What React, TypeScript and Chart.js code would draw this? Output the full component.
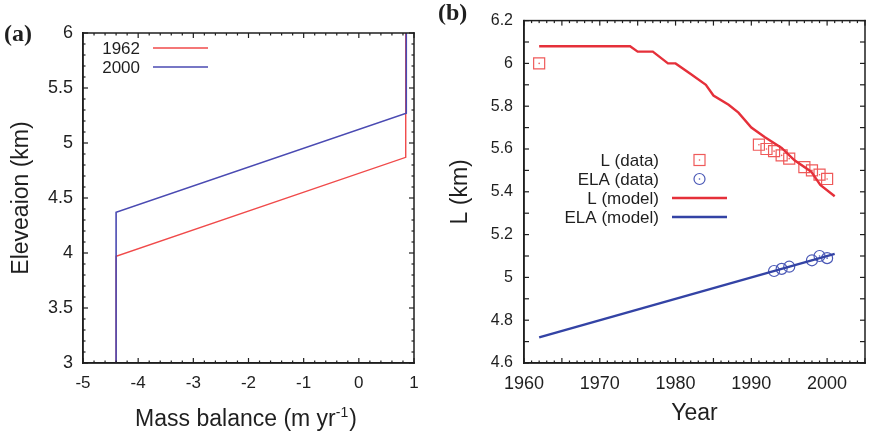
import React, { useEffect, useRef } from 'react';
import { Chart, registerables } from 'chart.js';

Chart.register(...registerables);

const SANS = '"Liberation Sans", Arial, Helvetica, sans-serif';
const SERIF = '"Liberation Serif", "Times New Roman", serif';
const INK = '#1f1f1f';

// ---------- Panel (a): mass-balance profiles ----------
const aSeriesNames = ['1962', '2000'];
const mb1962 = [-4.4, -4.4, 0.85, 0.85];
const elev1962 = [3.0, 3.97, 4.87, 6.0];
const mb2000 = [-4.4, -4.4, 0.86, 0.86];
const elev2000 = [3.0, 4.37, 5.27, 6.0];
const aXTicks = [-5, -4, -3, -2, -1, 0, 1];
const aYTicks = [3, 3.5, 4, 4.5, 5, 5.5, 6];

// ---------- Panel (b): glacier length and ELA ----------
const bSeriesNames = ['L (data)', 'ELA (data)', 'L (model)', 'ELA (model)'];
const lModelYear = [1962, 1974, 1975, 1977, 1979, 1980, 1982, 1984, 1985, 1987, 1988.3, 1990, 1991.8, 1994, 1995.7, 1997.9, 1999.1, 2001];
const lModelKm = [6.08, 6.08, 6.055, 6.055, 6.0, 6.0, 5.95, 5.9, 5.85, 5.807, 5.77, 5.7, 5.655, 5.605, 5.547, 5.494, 5.432, 5.379];
const lDataYear = [1962, 1991, 1992, 1993, 1994, 1995, 1997, 1998, 1999, 2000];
const lDataKm = [6.0, 5.62, 5.6, 5.59, 5.57, 5.555, 5.515, 5.5, 5.48, 5.46];
const elaModelYear = [1962, 2001];
const elaModelKm = [4.72, 5.11];
const elaDataYear = [1993, 1994, 1995, 1998, 1999, 2000];
const elaDataKm = [5.03, 5.04, 5.05, 5.08, 5.1, 5.09];
const bXTicks = [1960, 1970, 1980, 1990, 2000];
const bYTicks = [4.6, 4.8, 5, 5.2, 5.4, 5.6, 5.8, 6, 6.2];

const RED_A = '#f04a4a';
const BLUE_A = '#4a4ab2';
const RED_B = '#e5303a';
const BLUE_B = '#3343a5';
const RED_PT = '#ef5a5a';
const BLUE_PT = '#4a58b6';

const pts = (xs: number[], ys: number[]) => xs.map((x, i) => ({ x, y: ys[i] }));

function axis(min: number, max: number, ticks: number[], horizontal: boolean, size: number, fontSize: number, padding: number, title?: any) {
  return {
    type: 'linear',
    min,
    max,
    grid: { display: false, drawTicks: false },
    border: { display: true, color: INK, width: 1.5 },
    ticks: {
      autoSkip: false,
      maxRotation: 0,
      padding,
      color: INK,
      font: { family: SANS, size: fontSize },
      callback: (v: number) => String(v),
    },
    afterBuildTicks: (s: any) => {
      s.ticks = ticks.map((v) => ({ value: v }));
    },
    afterFit: (s: any) => {
      if (horizontal) s.height = size;
      else s.width = size;
    },
    title: title || { display: false },
  };
}

type FrameSpec = { xStep: number; xLong: number; yStep: number; yLong: number; yShortLen: number };

// Frame box + inward tick marks, drawn on an overlay canvas from the chart's own scales
function drawFrameOverlay(canvas: HTMLCanvasElement, chart: any, f: FrameSpec) {
  const ctx = canvas.getContext('2d');
  if (!ctx) return;
  ctx.setTransform(1, 0, 0, 1, 0, 0);
  ctx.clearRect(0, 0, canvas.width, canvas.height);
  const xs = chart.scales.x;
  const ys = chart.scales.y;
  const L = xs.getPixelForValue(xs.min);
  const R = xs.getPixelForValue(xs.max);
  const T = ys.getPixelForValue(ys.max);
  const B = ys.getPixelForValue(ys.min);
  const isLong = (v: number, step: number) => Math.abs(v / step - Math.round(v / step)) < 1e-6;
  ctx.fillStyle = INK;
  const bw = 1.5;
  ctx.fillRect(L - bw / 2, T - bw / 2, R - L + bw, bw);
  ctx.fillRect(L - bw / 2, B - bw / 2, R - L + bw, bw);
  ctx.fillRect(L - bw / 2, T - bw / 2, bw, B - T + bw);
  ctx.fillRect(R - bw / 2, T - bw / 2, bw, B - T + bw);
  const tw = 1.2;
  const nx = Math.round((xs.max - xs.min) / f.xStep);
  for (let i = 0; i <= nx; i++) {
    const v = xs.min + i * f.xStep;
    const p = xs.getPixelForValue(v);
    const len = isLong(v, f.xLong) ? 5 : 2.5;
    ctx.fillRect(p - tw / 2, B - len, tw, len);
    ctx.fillRect(p - tw / 2, T, tw, len);
  }
  const ny = Math.round((ys.max - ys.min) / f.yStep);
  for (let i = 0; i <= ny; i++) {
    const v = ys.min + i * f.yStep;
    const p = ys.getPixelForValue(v);
    const len = isLong(v, f.yLong) ? 5 : f.yShortLen;
    ctx.fillRect(L, p - tw / 2, len, tw);
    ctx.fillRect(R - len, p - tw / 2, len, tw);
  }
}

type Row = { label: string; kind: 'line' | 'square' | 'circle'; color: string; width: number };

type Decor = {
  rows: Row[];
  textRight: number;
  rowYs: number[];
  sx1: number;
  sx2: number;
  legendFont: number;
  label: string;
  labelX: number;
  labelY: number;
  massTitle: boolean;
};

function decorPlugin(id: string, d: Decor) {
  return {
    id,
    afterDraw(chart: any) {
      const ctx = chart.ctx;

      // legend
      ctx.save();
      ctx.font = `${d.legendFont}px ${SANS}`;
      ctx.textAlign = 'right';
      ctx.textBaseline = 'middle';
      d.rows.forEach((r, i) => {
        const y = d.rowYs[i];
        ctx.fillStyle = INK;
        ctx.fillText(r.label, d.textRight, y + 1);
        ctx.strokeStyle = r.color;
        ctx.fillStyle = r.color;
        ctx.lineWidth = r.width;
        const cx = (d.sx1 + d.sx2) / 2;
        if (r.kind === 'line') {
          ctx.beginPath();
          ctx.moveTo(d.sx1, y);
          ctx.lineTo(d.sx2, y);
          ctx.stroke();
        } else if (r.kind === 'square') {
          ctx.strokeRect(cx - 5.5, y - 5.5, 11, 11);
          ctx.beginPath();
          ctx.arc(cx, y, 0.8, 0, Math.PI * 2);
          ctx.fill();
        } else {
          ctx.beginPath();
          ctx.arc(cx, y, 5.5, 0, Math.PI * 2);
          ctx.stroke();
          ctx.beginPath();
          ctx.arc(cx, y, 0.8, 0, Math.PI * 2);
          ctx.fill();
        }
      });
      ctx.restore();

      // panel label
      ctx.save();
      ctx.font = `bold 24px ${SERIF}`;
      ctx.fillStyle = INK;
      ctx.textAlign = 'left';
      ctx.textBaseline = 'middle';
      ctx.fillText(d.label, d.labelX, d.labelY);
      ctx.restore();

      // x title with superscript (panel a)
      if (d.massTitle) {
        const main = 'Mass balance (m yr';
        const sup = '-1';
        const close = ')';
        ctx.save();
        ctx.fillStyle = INK;
        ctx.textBaseline = 'alphabetic';
        ctx.textAlign = 'left';
        ctx.font = `23px ${SANS}`;
        const w1 = ctx.measureText(main).width;
        const w3 = ctx.measureText(close).width;
        ctx.font = `14px ${SANS}`;
        const w2 = ctx.measureText(sup).width;
        const total = w1 + w2 + w3 + 1;
        const x0 = 246 - total / 2;
        const base = 426;
        ctx.font = `23px ${SANS}`;
        ctx.fillText(main, x0, base);
        ctx.font = `14px ${SANS}`;
        ctx.fillText(sup, x0 + w1, base - 9);
        ctx.font = `23px ${SANS}`;
        ctx.fillText(close, x0 + w1 + w2 + 1, base);
        ctx.restore();
      }
    },
  };
}

function configA(): any {
  return {
    type: 'scatter',
    data: {
      datasets: [
        { label: aSeriesNames[1], data: pts(mb2000, elev2000), showLine: true, borderColor: BLUE_A, borderWidth: 1.6, pointRadius: 0, order: 0 },
        { label: aSeriesNames[0], data: pts(mb1962, elev1962), showLine: true, borderColor: RED_A, borderWidth: 1.4, pointRadius: 0, order: 1 },
      ],
    },
    options: {
      animation: false,
      responsive: false,
      events: [],
      layout: { padding: { left: 0, right: 23, top: 33, bottom: 0 } },
      plugins: { legend: { display: false }, tooltip: { enabled: false } },
      scales: {
        x: axis(-5, 1, aXTicks, true, 73, 17, 10),
        y: axis(3, 6, aYTicks, false, 83, 18, 10, {
          display: true,
          text: 'Eleveaion (km)',
          color: INK,
          font: { family: SANS, size: 23 },
          padding: { top: 8, bottom: 0 },
        }),
      },
    },
    plugins: [
      decorPlugin('decorA', {
        rows: [
          { label: aSeriesNames[0], kind: 'line', color: RED_A, width: 1.4 },
          { label: aSeriesNames[1], kind: 'line', color: BLUE_A, width: 1.4 },
        ],
        textRight: 140,
        rowYs: [48, 67],
        sx1: 153,
        sx2: 208,
        legendFont: 17,
        label: '(a)',
        labelX: 4,
        labelY: 35,
        massTitle: true,
      }),
    ],
  };
}

function configB(): any {
  return {
    type: 'scatter',
    data: {
      datasets: [
        { label: bSeriesNames[2], data: pts(lModelYear, lModelKm), showLine: true, borderColor: RED_B, borderWidth: 2.4, pointRadius: 0, order: 0 },
        { label: bSeriesNames[3], data: pts(elaModelYear, elaModelKm), showLine: true, borderColor: BLUE_B, borderWidth: 2.4, pointRadius: 0, order: 1 },
        { label: bSeriesNames[0], data: pts(lDataYear, lDataKm), showLine: false, pointStyle: 'rect', pointRadius: 7.8, borderColor: RED_PT, backgroundColor: 'rgba(0,0,0,0)', pointBorderWidth: 1.2, order: 2 },
        { label: bSeriesNames[0] + ' centre', data: pts(lDataYear, lDataKm), showLine: false, pointStyle: 'circle', pointRadius: 0.8, borderWidth: 0, backgroundColor: RED_PT, order: 2 },
        { label: bSeriesNames[1], data: pts(elaDataYear, elaDataKm), showLine: false, pointStyle: 'circle', pointRadius: 5.5, borderColor: BLUE_PT, backgroundColor: 'rgba(0,0,0,0)', pointBorderWidth: 1.2, order: 2 },
        { label: bSeriesNames[1] + ' centre', data: pts(elaDataYear, elaDataKm), showLine: false, pointStyle: 'circle', pointRadius: 0.8, borderWidth: 0, backgroundColor: BLUE_PT, order: 2 },
      ],
    },
    options: {
      animation: false,
      responsive: false,
      events: [],
      layout: { padding: { left: 0, right: 3, top: 14, bottom: 0 } },
      plugins: { legend: { display: false }, tooltip: { enabled: false } },
      scales: {
        x: axis(1960, 2005, bXTicks, true, 73, 18, 10, {
          display: true,
          text: 'Year',
          color: INK,
          font: { family: SANS, size: 23 },
          padding: { top: 0, bottom: 9 },
        }),
        y: axis(4.6, 6.2, bYTicks, false, 87, 16, 11, {
          display: true,
          text: 'L (km)',
          color: INK,
          font: { family: SANS, size: 23 },
          padding: { top: 10, bottom: 0 },
        }),
      },
    },
    plugins: [
      decorPlugin('decorB', {
        rows: [
          { label: bSeriesNames[0], kind: 'square', color: RED_PT, width: 1.2 },
          { label: bSeriesNames[1], kind: 'circle', color: BLUE_PT, width: 1.2 },
          { label: bSeriesNames[2], kind: 'line', color: RED_B, width: 2.4 },
          { label: bSeriesNames[3], kind: 'line', color: BLUE_B, width: 2.4 },
        ],
        textRight: 222,
        rowYs: [160, 179, 198, 217],
        sx1: 235,
        sx2: 290,
        legendFont: 17,
        label: '(b)',
        labelX: 1,
        labelY: 14,
        massTitle: false,
      }),
    ],
  };
}

const canvasStyle = (left: number): React.CSSProperties => ({ position: 'absolute', left, top: 0, width: 437, height: 436 });

export default function App() {
  const aRef = useRef<HTMLCanvasElement>(null);
  const bRef = useRef<HTMLCanvasElement>(null);
  const aOver = useRef<HTMLCanvasElement>(null);
  const bOver = useRef<HTMLCanvasElement>(null);
  useEffect(() => {
    const ca = new Chart(aRef.current as HTMLCanvasElement, configA());
    const cb = new Chart(bRef.current as HTMLCanvasElement, configB());
    drawFrameOverlay(aOver.current as HTMLCanvasElement, ca, { xStep: 0.2, xLong: 1, yStep: 0.1, yLong: 0.5, yShortLen: 2.5 });
    drawFrameOverlay(bOver.current as HTMLCanvasElement, cb, { xStep: 1, xLong: 5, yStep: 0.1, yLong: 0.1, yShortLen: 5 });
    return () => {
      ca.destroy();
      cb.destroy();
    };
  }, []);
  return (
    <div style={{ position: 'absolute', left: 0, top: 0, width: 874, height: 436, background: '#ffffff', overflow: 'hidden' }}>
      <canvas ref={aRef} width={437} height={436} style={canvasStyle(0)} />
      <canvas ref={bRef} width={437} height={436} style={canvasStyle(437)} />
      <canvas ref={aOver} width={437} height={436} style={{ ...canvasStyle(0), pointerEvents: 'none' }} />
      <canvas ref={bOver} width={437} height={436} style={{ ...canvasStyle(437), pointerEvents: 'none' }} />
    </div>
  );
}
